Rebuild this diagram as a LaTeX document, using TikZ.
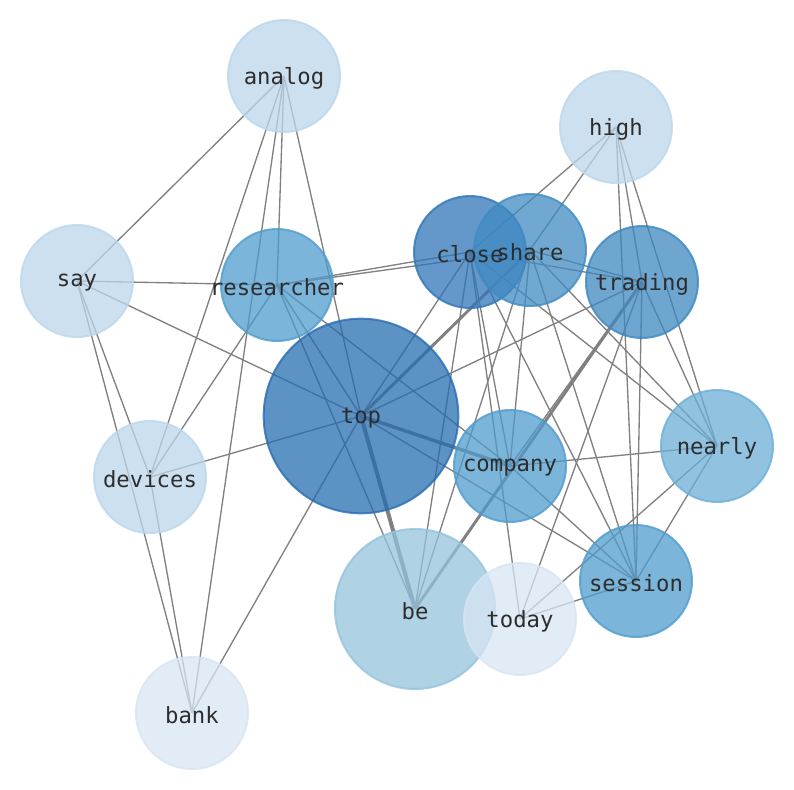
\documentclass[tikz,border=0pt]{standalone}
\usepackage{fontspec}
\setmonofont{DejaVu Sans Mono}
\usepackage{tikz}
\usetikzlibrary{backgrounds}
\usepackage{xcolor}

\definecolor{blueA}{RGB}{39,109,177}
\definecolor{blueB}{RGB}{48,117,185}
\definecolor{blueC}{RGB}{64,139,195}
\definecolor{blueD}{RGB}{61,136,192}
\definecolor{blueE}{RGB}{80,156,205}
\definecolor{blueF}{RGB}{108,175,215}
\definecolor{blueG}{RGB}{148,195,220}
\definecolor{blueH}{RGB}{188,214,235}
\definecolor{blueI}{RGB}{215,229,243}
\definecolor{labelgray}{RGB}{45,45,45}

\begin{document}
\begin{tikzpicture}[x=0.75pt,y=-0.75pt]
	\useasboundingbox (0,0) rectangle (794,790);
	% words
	\begin{scope}[every node/.style={circle,draw,line width=1.5pt,fill opacity=0.75,draw opacity=0.8,inner sep=0pt,minimum size=84pt}]
		\node[fill=blueH,draw=blueH] (analog) at (284,76) {};
		\node[fill=blueH,draw=blueH] (high) at (616,127) {};
		\node[fill=blueH,draw=blueH] (say) at (77,281) {};
		\node[fill=blueE,draw=blueE] (researcher) at (277,285) {};
		\node[fill=blueB,draw=blueB] (close) at (470,252) {};
		\node[fill=blueC,draw=blueC] (share) at (530,250) {};
		\node[fill=blueD,draw=blueD] (trading) at (642,282) {};
		\node[fill=blueA,draw=blueA,minimum size=146pt] (top) at (361,416) {};
		\node[fill=blueF,draw=blueF] (nearly) at (717,446) {};
		\node[fill=blueE,draw=blueE] (company) at (510,466) {};
		\node[fill=blueH,draw=blueH] (devices) at (150,477) {};
		\node[fill=blueE,draw=blueE] (session) at (636,581) {};
		\node[fill=blueG,draw=blueG,minimum size=120pt] (be) at (415,609) {};
		\node[fill=blueI,draw=blueI] (today) at (520,619) {};
		\node[fill=blueI,draw=blueI] (bank) at (192,713) {};
	\end{scope}
	% labels on top
	\begin{scope}[every node/.style={text=labelgray,font=\fontsize{16.7}{16.7}\selectfont\ttfamily,inner sep=0pt,yshift=-1.5pt}]
		\node at (analog) {analog};
		\node at (high) {high};
		\node at (say) {say};
		\node at (researcher) {researcher};
		\node at (close) {close};
		\node at (share) {share};
		\node at (trading) {trading};
		\node at (top) {top};
		\node at (nearly) {nearly};
		\node at (company) {company};
		\node at (devices) {devices};
		\node at (session) {session};
		\node at (be) {be};
		\node at (today) {today};
		\node at (bank) {bank};
	\end{scope}
	% co-occurrence links
	\begin{pgfonlayer}{background}
	\begin{scope}[every path/.style={draw=gray,line width=1pt}]
		\draw (analog.center) -- (say.center);
		\draw (analog.center) -- (devices.center);
		\draw (analog.center) -- (bank.center);
		\draw (analog.center) -- (researcher.center);
		\draw (analog.center) -- (top.center);
		\draw (say.center) -- (researcher.center);
		\draw (say.center) -- (top.center);
		\draw (say.center) -- (devices.center);
		\draw (say.center) -- (bank.center);
		\draw (devices.center) -- (bank.center);
		\draw (devices.center) -- (researcher.center);
		\draw (devices.center) -- (top.center);
		\draw (bank.center) -- (top.center);
		\draw (researcher.center) -- (be.center);
		\draw (researcher.center) -- (top.center);
		\draw (researcher.center) -- (close.center);
		\draw (researcher.center) -- (share.center);
		\draw (researcher.center) -- (company.center);
		\draw[line width=3pt] (top.center) -- (be.center);
		\draw[line width=2.6pt] (top.center) -- (company.center);
		\draw[line width=2.2pt] (top.center) -- (share.center);
		\draw (top.center) -- (close.center);
		\draw (top.center) -- (trading.center);
		\draw (top.center) -- (session.center);
		\draw (be.center) -- (close.center);
		\draw (be.center) -- (share.center);
		\draw[line width=2.2pt] (be.center) -- (trading.center);
		\draw (close.center) -- (today.center);
		\draw (close.center) -- (company.center);
		\draw (close.center) -- (session.center);
		\draw (close.center) -- (nearly.center);
		\draw (close.center) -- (trading.center);
		\draw (close.center) -- (high.center);
		\draw (share.center) -- (company.center);
		\draw (share.center) -- (session.center);
		\draw (share.center) -- (nearly.center);
		\draw (share.center) -- (trading.center);
		\draw (share.center) -- (high.center);
		\draw (trading.center) -- (company.center);
		\draw (trading.center) -- (today.center);
		\draw (trading.center) -- (session.center);
		\draw (trading.center) -- (nearly.center);
		\draw (trading.center) -- (high.center);
		\draw (high.center) -- (session.center);
		\draw (high.center) -- (nearly.center);
		\draw (nearly.center) -- (company.center);
		\draw (nearly.center) -- (session.center);
		\draw (nearly.center) -- (today.center);
		\draw (session.center) -- (company.center);
		\draw (session.center) -- (today.center);
	\end{scope}
	\end{pgfonlayer}
\end{tikzpicture}
\end{document}
